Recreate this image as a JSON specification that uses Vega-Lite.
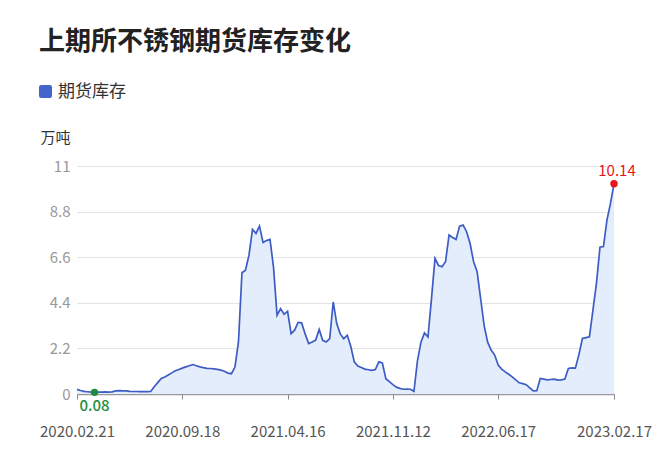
{
  "$schema": "https://vega.github.io/schema/vega-lite/v6.json",
  "autosize": "none",
  "width": 537,
  "height": 228,
  "padding": {"left": 77, "top": 166, "right": 46, "bottom": 55},
  "background": "white",
  "config": {
    "font": "Noto Sans CJK SC",
    "view": {"stroke": null},
    "title": {"font": "Noto Sans CJK SC"},
    "axis": {"labelFont": "Noto Sans CJK SC", "titleFont": "Noto Sans CJK SC"},
    "legend": {"labelFont": "Noto Sans CJK SC"}
  },
  "title": {
    "text": "上期所不锈钢期货库存变化",
    "anchor": "start",
    "frame": "group",
    "fontSize": 26,
    "fontWeight": "bold",
    "color": "#222222",
    "dx": -38,
    "offset": 28
  },
  "data": {
    "values": [
      {"date": "2020.02.21", "value": 0.22},
      {"date": "2020.02.28", "value": 0.17},
      {"date": "2020.03.06", "value": 0.13},
      {"date": "2020.03.13", "value": 0.11},
      {"date": "2020.03.20", "value": 0.09},
      {"date": "2020.03.27", "value": 0.08},
      {"date": "2020.04.03", "value": 0.09},
      {"date": "2020.04.10", "value": 0.09},
      {"date": "2020.04.17", "value": 0.10},
      {"date": "2020.04.24", "value": 0.09},
      {"date": "2020.04.30", "value": 0.10},
      {"date": "2020.05.08", "value": 0.15},
      {"date": "2020.05.15", "value": 0.16},
      {"date": "2020.05.22", "value": 0.15},
      {"date": "2020.05.29", "value": 0.15},
      {"date": "2020.06.05", "value": 0.13},
      {"date": "2020.06.12", "value": 0.12},
      {"date": "2020.06.19", "value": 0.12},
      {"date": "2020.06.24", "value": 0.11},
      {"date": "2020.07.03", "value": 0.12},
      {"date": "2020.07.10", "value": 0.11},
      {"date": "2020.07.17", "value": 0.12},
      {"date": "2020.07.24", "value": 0.35},
      {"date": "2020.07.31", "value": 0.55},
      {"date": "2020.08.07", "value": 0.75},
      {"date": "2020.08.14", "value": 0.82},
      {"date": "2020.08.21", "value": 0.92},
      {"date": "2020.08.28", "value": 1.02},
      {"date": "2020.09.04", "value": 1.12},
      {"date": "2020.09.11", "value": 1.18},
      {"date": "2020.09.18", "value": 1.25},
      {"date": "2020.09.25", "value": 1.31},
      {"date": "2020.09.30", "value": 1.36},
      {"date": "2020.10.09", "value": 1.42},
      {"date": "2020.10.16", "value": 1.36},
      {"date": "2020.10.23", "value": 1.31},
      {"date": "2020.10.30", "value": 1.27},
      {"date": "2020.11.06", "value": 1.24},
      {"date": "2020.11.13", "value": 1.23},
      {"date": "2020.11.20", "value": 1.21},
      {"date": "2020.11.27", "value": 1.19},
      {"date": "2020.12.04", "value": 1.15},
      {"date": "2020.12.11", "value": 1.10},
      {"date": "2020.12.18", "value": 1.01},
      {"date": "2020.12.25", "value": 0.98},
      {"date": "2020.12.31", "value": 1.30},
      {"date": "2021.01.08", "value": 2.50},
      {"date": "2021.01.15", "value": 5.85},
      {"date": "2021.01.22", "value": 5.97},
      {"date": "2021.01.29", "value": 6.70},
      {"date": "2021.02.05", "value": 7.94},
      {"date": "2021.02.10", "value": 7.75},
      {"date": "2021.02.19", "value": 8.10},
      {"date": "2021.02.26", "value": 7.31},
      {"date": "2021.03.05", "value": 7.40},
      {"date": "2021.03.12", "value": 7.46},
      {"date": "2021.03.19", "value": 6.10},
      {"date": "2021.03.26", "value": 3.80},
      {"date": "2021.04.02", "value": 4.12},
      {"date": "2021.04.09", "value": 3.85},
      {"date": "2021.04.16", "value": 3.99},
      {"date": "2021.04.23", "value": 2.91},
      {"date": "2021.04.30", "value": 3.08},
      {"date": "2021.05.07", "value": 3.45},
      {"date": "2021.05.14", "value": 3.43},
      {"date": "2021.05.21", "value": 2.90},
      {"date": "2021.05.28", "value": 2.43},
      {"date": "2021.06.04", "value": 2.51},
      {"date": "2021.06.11", "value": 2.60},
      {"date": "2021.06.18", "value": 3.11},
      {"date": "2021.06.25", "value": 2.59},
      {"date": "2021.07.02", "value": 2.51},
      {"date": "2021.07.09", "value": 2.67},
      {"date": "2021.07.16", "value": 4.44},
      {"date": "2021.07.23", "value": 3.40},
      {"date": "2021.07.30", "value": 2.90},
      {"date": "2021.08.06", "value": 2.67},
      {"date": "2021.08.13", "value": 2.83},
      {"date": "2021.08.20", "value": 2.30},
      {"date": "2021.08.27", "value": 1.55},
      {"date": "2021.09.03", "value": 1.35},
      {"date": "2021.09.10", "value": 1.28},
      {"date": "2021.09.17", "value": 1.20},
      {"date": "2021.09.24", "value": 1.17},
      {"date": "2021.09.30", "value": 1.14},
      {"date": "2021.10.08", "value": 1.18},
      {"date": "2021.10.15", "value": 1.55},
      {"date": "2021.10.22", "value": 1.50},
      {"date": "2021.10.29", "value": 0.74},
      {"date": "2021.11.05", "value": 0.60},
      {"date": "2021.11.12", "value": 0.45},
      {"date": "2021.11.19", "value": 0.33},
      {"date": "2021.11.26", "value": 0.27},
      {"date": "2021.12.03", "value": 0.23},
      {"date": "2021.12.10", "value": 0.24},
      {"date": "2021.12.17", "value": 0.23},
      {"date": "2021.12.24", "value": 0.13},
      {"date": "2021.12.31", "value": 1.60},
      {"date": "2022.01.07", "value": 2.50},
      {"date": "2022.01.14", "value": 2.95},
      {"date": "2022.01.21", "value": 2.75},
      {"date": "2022.01.28", "value": 4.60},
      {"date": "2022.02.11", "value": 6.54},
      {"date": "2022.02.18", "value": 6.20},
      {"date": "2022.02.25", "value": 6.14},
      {"date": "2022.03.04", "value": 6.38},
      {"date": "2022.03.11", "value": 7.67},
      {"date": "2022.03.18", "value": 7.55},
      {"date": "2022.03.25", "value": 7.46},
      {"date": "2022.04.01", "value": 8.10},
      {"date": "2022.04.08", "value": 8.15},
      {"date": "2022.04.15", "value": 7.83},
      {"date": "2022.04.22", "value": 7.26},
      {"date": "2022.04.29", "value": 6.38},
      {"date": "2022.05.06", "value": 5.90},
      {"date": "2022.05.13", "value": 4.60},
      {"date": "2022.05.20", "value": 3.30},
      {"date": "2022.05.27", "value": 2.50},
      {"date": "2022.06.02", "value": 2.12},
      {"date": "2022.06.10", "value": 1.88},
      {"date": "2022.06.17", "value": 1.40},
      {"date": "2022.06.24", "value": 1.20},
      {"date": "2022.07.01", "value": 1.07},
      {"date": "2022.07.08", "value": 0.95},
      {"date": "2022.07.15", "value": 0.83},
      {"date": "2022.07.22", "value": 0.68},
      {"date": "2022.07.29", "value": 0.54},
      {"date": "2022.08.05", "value": 0.50},
      {"date": "2022.08.12", "value": 0.45},
      {"date": "2022.08.19", "value": 0.30},
      {"date": "2022.08.26", "value": 0.15},
      {"date": "2022.09.02", "value": 0.16},
      {"date": "2022.09.09", "value": 0.75},
      {"date": "2022.09.16", "value": 0.72},
      {"date": "2022.09.23", "value": 0.68},
      {"date": "2022.09.30", "value": 0.70},
      {"date": "2022.10.14", "value": 0.72},
      {"date": "2022.10.21", "value": 0.67},
      {"date": "2022.10.28", "value": 0.68},
      {"date": "2022.11.04", "value": 0.72},
      {"date": "2022.11.11", "value": 1.23},
      {"date": "2022.11.18", "value": 1.26},
      {"date": "2022.11.25", "value": 1.25},
      {"date": "2022.12.02", "value": 1.90},
      {"date": "2022.12.09", "value": 2.68},
      {"date": "2022.12.16", "value": 2.72},
      {"date": "2022.12.23", "value": 2.76},
      {"date": "2022.12.30", "value": 4.05},
      {"date": "2023.01.06", "value": 5.34},
      {"date": "2023.01.13", "value": 7.08},
      {"date": "2023.01.20", "value": 7.11},
      {"date": "2023.02.03", "value": 8.40},
      {"date": "2023.02.10", "value": 9.20},
      {"date": "2023.02.17", "value": 10.14}
    ]
  },
  "encoding": {
    "x": {
      "field": "date",
      "type": "ordinal",
      "sort": null,
      "scale": {"type": "point", "padding": 0},
      "axis": {
        "title": null,
        "values": ["2020.02.21", "2020.09.18", "2021.04.16", "2021.11.12", "2022.06.17", "2023.02.17"],
        "labelAngle": 0,
        "labelFontSize": 15,
        "labelColor": "#555555",
        "labelPadding": 25,
        "labelOverlap": false,
        "labelBound": false,
        "domainColor": "#999999",
        "domainWidth": 1.5,
        "tickColor": "#888888",
        "tickSize": 5,
        "grid": false
      }
    },
    "y": {
      "field": "value",
      "type": "quantitative",
      "scale": {"domain": [0, 11], "nice": false, "zero": true},
      "axis": {
        "title": "万吨",
        "titleAngle": 0,
        "titleAlign": "left",
        "titleBaseline": "middle",
        "titleX": -37,
        "titleY": -29,
        "titleFontSize": 15,
        "titleFontWeight": "normal",
        "titleColor": "#333333",
        "values": [0, 2.2, 4.4, 6.6, 8.8, 11],
        "format": ".1~f",
        "labelFontSize": 15,
        "labelColor": "#999999",
        "labelPadding": 7,
        "domain": false,
        "ticks": false,
        "gridColor": "#e3e3e3",
        "gridWidth": 1
      }
    }
  },
  "layer": [
    {
      "mark": {"type": "area", "color": "#e3edfc", "opacity": 1, "interpolate": "linear"}
    },
    {
      "mark": {"type": "line", "strokeWidth": 1.7, "interpolate": "linear"},
      "encoding": {
        "stroke": {
          "datum": "期货库存",
          "type": "nominal",
          "scale": {"range": ["#3d5cc4"]},
          "legend": {
            "title": null,
            "orient": "none",
            "legendX": -40,
            "legendY": -83,
            "symbolType": "M -0.65 -1 L 0.65 -1 Q 1 -1 1 -0.65 L 1 0.65 Q 1 1 0.65 1 L -0.65 1 Q -1 1 -1 0.65 L -1 -0.65 Q -1 -1 -0.65 -1 Z",
            "symbolFillColor": "#4466cc",
            "symbolStrokeColor": "#4466cc",
            "symbolStrokeWidth": 0,
            "symbolSize": 170,
            "labelFontSize": 17,
            "labelColor": "#333333",
            "labelOffset": 4
          }
        }
      }
    },
    {
      "transform": [
        {"joinaggregate": [{"op": "min", "field": "value", "as": "mn"}]},
        {"filter": "datum.value == datum.mn"}
      ],
      "mark": {"type": "point", "filled": true, "size": 55, "color": "#1e8c3c", "opacity": 1}
    },
    {
      "transform": [
        {"joinaggregate": [{"op": "min", "field": "value", "as": "mn"}]},
        {"filter": "datum.value == datum.mn"}
      ],
      "mark": {"type": "text", "dy": 14, "fontSize": 15, "fontWeight": 500, "color": "#1e8c3c"},
      "encoding": {"text": {"field": "value", "type": "quantitative", "format": ".2f"}}
    },
    {
      "transform": [
        {"joinaggregate": [{"op": "max", "field": "value", "as": "mx"}]},
        {"filter": "datum.value == datum.mx"}
      ],
      "mark": {"type": "point", "filled": true, "size": 55, "color": "#e8141b", "opacity": 1}
    },
    {
      "transform": [
        {"joinaggregate": [{"op": "max", "field": "value", "as": "mx"}]},
        {"filter": "datum.value == datum.mx"}
      ],
      "mark": {"type": "text", "dx": 3, "dy": -13, "fontSize": 15, "color": "#e8141b"},
      "encoding": {"text": {"field": "value", "type": "quantitative", "format": ".2f"}}
    }
  ]
}
